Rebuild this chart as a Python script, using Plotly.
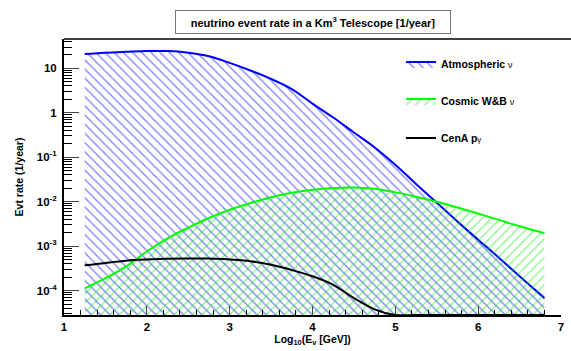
import numpy as np
import plotly.graph_objects as go

# log10(E_nu [GeV]) sample points
log_energy = [1.25, 1.5, 1.75, 2.0, 2.25, 2.5, 2.75, 3.0, 3.25, 3.5, 3.75, 4.0,
              4.25, 4.5, 4.75, 5.0, 5.25, 5.5, 5.75, 6.0, 6.25, 6.5, 6.8]
# event rates (1/year)
atmospheric = [20.9, 22.4, 23.4, 24.3, 24.3, 22.4, 18.6, 13.2, 8.9, 5.75, 3.4, 1.6,
               0.78, 0.36, 0.166, 0.068, 0.025, 0.0095, 0.0036, 0.0014, 0.00055, 0.00021, 6.8e-5]
cosmic_wb = [1.12e-4, 1.9e-4, 3.5e-4, 7.6e-4, 1.5e-3, 2.6e-3, 4.3e-3, 6.6e-3, 9.3e-3, 1.26e-2,
             1.58e-2, 1.86e-2, 2.04e-2, 2.09e-2, 1.95e-2, 1.62e-2, 1.29e-2, 1.0e-2, 7.4e-3,
             5.4e-3, 3.9e-3, 2.8e-3, 1.95e-3]
cena_pg = [3.7e-4, 4.2e-4, 4.7e-4, 5.0e-4, 5.2e-4, 5.25e-4, 5.25e-4, 5.0e-4, 4.6e-4, 3.8e-4,
           2.9e-4, 2.1e-4, 1.35e-4, 6.8e-5, 3.8e-5, 2.4e-5, 1.26e-5, 6.3e-6, 3.2e-6, 1.6e-6,
           7.9e-7, 4.0e-7, 1.6e-7]

y_tick_vals = [1e-4, 1e-3, 1e-2, 1e-1, 1, 10]
y_tick_text = ["10<sup>-4</sup>", "10<sup>-3</sup>", "10<sup>-2</sup>", "10<sup>-1</sup>", "1", "10"]
x_tick_vals = [1, 2, 3, 4, 5, 6, 7]

Y_LOG_RANGE = [-4.548, 1.658]
X_RANGE = [1, 7]
ymin = 10 ** Y_LOG_RANGE[0]

FONT = "Liberation Sans"

fig = go.Figure()

fig.add_trace(go.Scatter(
    x=log_energy, y=atmospheric, mode="lines", line=dict(color="#0000ff", width=2, shape="spline"),
    fill="tozeroy", fillcolor="rgba(0,0,0,0)",
    fillpattern=dict(shape="\\", fgcolor="#0000ff", bgcolor="rgba(255,255,255,0)", size=6.5, solidity=0.2),
    name="Atmospheric <span style='font-weight:normal;font-size:9px'>ν</span>", legendgroup="a"))

fig.add_trace(go.Scatter(
    x=log_energy, y=cosmic_wb, mode="lines", line=dict(color="#00ff00", width=2, shape="spline"),
    fill="tozeroy", fillcolor="rgba(0,0,0,0)",
    fillpattern=dict(shape="/", fgcolor="#00ee00", bgcolor="rgba(255,255,255,0)", size=6.5, solidity=0.2),
    name="Cosmic W&B <span style='font-weight:normal;font-size:9px'>ν</span>", legendgroup="b"))

fig.add_trace(go.Scatter(
    x=log_energy, y=np.maximum(np.array(cena_pg), ymin), mode="lines",
    line=dict(color="black", width=2, shape="spline"),
    name="CenA p<span style='font-weight:normal;font-size:8px'>γ</span>", legendgroup="c"))

minor_y = [k * 10.0 ** n for n in range(-5, 2) for k in range(2, 10)]

fig.update_layout(
    width=571, height=351,
    margin=dict(l=64, r=7, t=39, b=29),
    paper_bgcolor="white", plot_bgcolor="white",
    font=dict(family=FONT, size=11, color="black", weight="bold"),
    showlegend=True,
    legend=dict(x=0.678, y=0.962, xanchor="left", yanchor="top",
                bgcolor="rgba(0,0,0,0)", borderwidth=0,
                font=dict(family=FONT, size=10.5, weight="bold"),
                traceorder="grouped", tracegroupgap=18, itemwidth=30),
    xaxis=dict(range=X_RANGE, tickvals=x_tick_vals, ticks="inside", ticklen=9, tickwidth=1,
               showline=True, linecolor="black", linewidth=2, showgrid=False, zeroline=False,
               tickfont=dict(family=FONT, size=11.5, weight="bold"),
               minor=dict(dtick=0.2, ticks="inside", ticklen=5, tickcolor="black"),
               title=dict(text="Log<sub>10</sub>(E<sub>ν</sub> [GeV])", standoff=4,
                          font=dict(family=FONT, size=10.5, weight="bold"))),
    yaxis=dict(type="log", range=Y_LOG_RANGE, tickvals=y_tick_vals, ticktext=y_tick_text,
               ticks="inside", ticklen=15, tickwidth=1, showline=True, linecolor="black", linewidth=2,
               showgrid=False, zeroline=False, ticklabelstandoff=3,
               tickfont=dict(family=FONT, size=11.5, weight="bold"),
               minor=dict(tickvals=minor_y, ticks="inside", ticklen=8, tickcolor="black"),
               title=dict(text="Evt rate (1/year)", standoff=11,
                          font=dict(family=FONT, size=10.5, weight="bold"))),
    shapes=[dict(type="line", xref="paper", yref="paper", x0=0, x1=1.05, y0=1, y1=1,
                 line=dict(color="black", width=1.5))],
    annotations=[dict(text="neutrino event rate in a Km<sup>3</sup> Telescope [1/year]",
                      xref="paper", yref="paper", x=0.5, y=1, yshift=17, xanchor="center",
                      yanchor="middle", showarrow=False, bgcolor="white", bordercolor="#777777",
                      borderwidth=1, borderpad=4, width=266,
                      font=dict(family=FONT, size=11, weight="bold"))],
)

fig.write_html("out.html")
